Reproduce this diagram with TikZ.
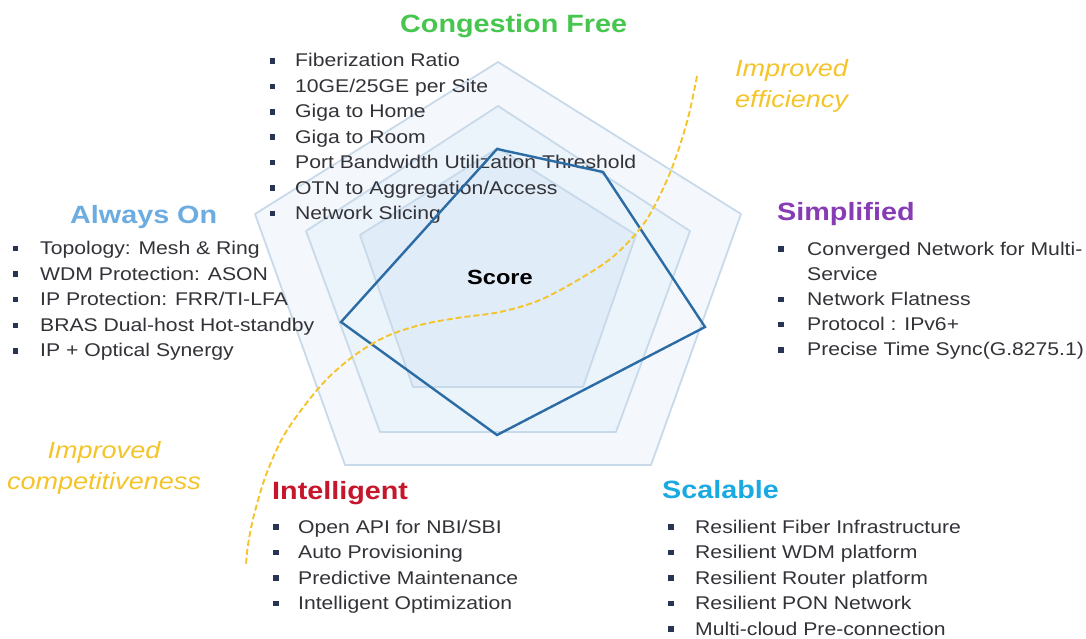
\documentclass[tikz,border=0pt]{standalone}
\usepackage{fontspec}
\setmainfont[FakeStretch=1.15]{Liberation Sans}
\definecolor{pentedge}{RGB}{200,218,233}
\definecolor{pA}{RGB}{244,248,253}
\definecolor{pB}{RGB}{235,243,251}
\definecolor{pC}{RGB}{224,236,248}
\definecolor{scoreblue}{RGB}{44,108,165}
\definecolor{txt}{RGB}{50,50,56}
\definecolor{bulc}{RGB}{40,52,84}
\definecolor{gold}{RGB}{244,196,40}
\definecolor{cgreen}{RGB}{70,198,78}
\definecolor{cblue}{RGB}{108,172,224}
\definecolor{cpurple}{RGB}{135,60,180}
\definecolor{cred}{RGB}{198,22,44}
\definecolor{ccyan}{RGB}{26,170,226}
\begin{document}
\begin{tikzpicture}[x=1pt,y=-1pt,
  pent/.style={draw=pentedge, line width=1.8pt, line join=round},
  item/.style={anchor=base west, inner sep=0pt, text=txt, font=\fontsize{18.4}{22}\selectfont},
  bul/.style={fill=bulc, minimum size=5.5pt, inner sep=0pt},
  ttl/.style={anchor=base west, inner sep=0pt, font=\fontsize{25}{30}\selectfont\bfseries},
  gain/.style={inner sep=0pt, text=gold, font=\fontsize{23.5}{28}\selectfont\itshape},
  gaincurve/.style={draw=gold, line width=1.9pt, dash pattern=on 6pt off 3pt}
]
\useasboundingbox (0,0) rectangle (1086,639);
\fill[white] (0,0) rectangle (1086,639);

% background pentagons
\coordinate (a1) at (498,62);  \coordinate (a2) at (741,214); \coordinate (a3) at (651,465);
\coordinate (a4) at (345,465); \coordinate (a5) at (255,214);
\coordinate (b1) at (498,106); \coordinate (b2) at (690,231); \coordinate (b3) at (616,432);
\coordinate (b4) at (380,432); \coordinate (b5) at (306,231);
\coordinate (c1) at (498,148); \coordinate (c2) at (636,235); \coordinate (c3) at (583,387);
\coordinate (c4) at (413,387); \coordinate (c5) at (360,235);
\draw[pent, fill=pA] (a1)--(a2)--(a3)--(a4)--(a5)--cycle;
\draw[pent, fill=pB] (b1)--(b2)--(b3)--(b4)--(b5)--cycle;
\draw[pent, fill=pC] (c1)--(c2)--(c3)--(c4)--(c5)--cycle;

% titles
\node[ttl, text=cgreen] (tcf) at (400,33) {Congestion Free};
\node[ttl, text=cblue] (tao) at (70,223) {Always On};
\node[ttl, text=cpurple] (tsi) at (777,220) {Simplified};
\node[ttl, text=cred] (tin) at (272,499) {Intelligent};
\node[ttl, text=ccyan] (tsc) at (662,498) {Scalable};

% Congestion Free list
\foreach \t [count=\i from 0] in {Fiberization Ratio, 10GE/25GE per Site, Giga to Home, Giga to Room, Port Bandwidth Utilization Threshold, OTN to Aggregation/Access, Network Slicing}{
  \node[item] (cf\i) at (295,{67+25.4*\i}) {\t};
  \node[bul] (cfb\i) at (272.5,{61+25.4*\i}) {};
}
% Always On list
\foreach \t [count=\i from 0] in {Topology: Mesh \& Ring, WDM Protection: ASON, IP Protection: FRR/TI-LFA, BRAS Dual-host Hot-standby, IP + Optical  Synergy}{
  \node[item] (ao\i) at (40,{254.5+25.6*\i}) {\t};
  \node[bul] (aob\i) at (15.5,{248.5+25.6*\i}) {};
}
% Simplified list
\foreach \t [count=\i from 0] in {Converged Network for Multi-, Service, Network Flatness, Protocol : IPv6+, Precise Time Sync(G.8275.1)}{
  \node[item] (si\i) at (807,{255+25.2*\i}) {\t};
}
\foreach \i in {0,2,3,4}{
  \node[bul] (sib\i) at (781,{249+25.2*\i}) {};
}
% Intelligent list
\foreach \t [count=\i from 0] in {Open API for NBI/SBI, Auto Provisioning, Predictive Maintenance, Intelligent Optimization}{
  \node[item] (in\i) at (298,{533+25.5*\i}) {\t};
  \node[bul] (inb\i) at (276,{527+25.5*\i}) {};
}
% Scalable list
\foreach \t [count=\i from 0] in {Resilient Fiber Infrastructure, Resilient WDM platform, Resilient Router platform, Resilient PON Network, Multi-cloud Pre-connection}{
  \node[item] (sc\i) at (695,{533+25.5*\i}) {\t};
  \node[bul] (scb\i) at (671,{527+25.5*\i}) {};
}

% score polygon
\coordinate (s1) at (497,149); \coordinate (s2) at (603,172); \coordinate (s3) at (705,327);
\coordinate (s4) at (497,435); \coordinate (s5) at (341,322);
\draw[scoreblue, line width=2.4pt, line join=miter] (s1)--(s2)--(s3)--(s4)--(s5)--cycle;
\node[font=\fontsize{20.5}{24}\selectfont\bfseries, inner sep=0pt] (score) at (500,277) {Score};

% improvement curve
\draw[gaincurve] plot[smooth, tension=0.55] coordinates {(697,76) (690,110) (681,142) (667,180) (645,222) (615,255) (583,277) (540,300) (500,312) (457,318) (420,325) (385,337) (355,355) (328,378) (305,405) (283,437) (266,475) (254,515) (248,545) (246,565)};

\node[gain, anchor=base west] (eff1) at (735,77) {Improved};
\node[gain, anchor=base west] (eff2) at (735,108) {efficiency};
\node[gain, anchor=base] (com1) at (104,458) {Improved};
\node[gain, anchor=base] (com2) at (104,489) {competitiveness};
\end{tikzpicture}
\end{document}
